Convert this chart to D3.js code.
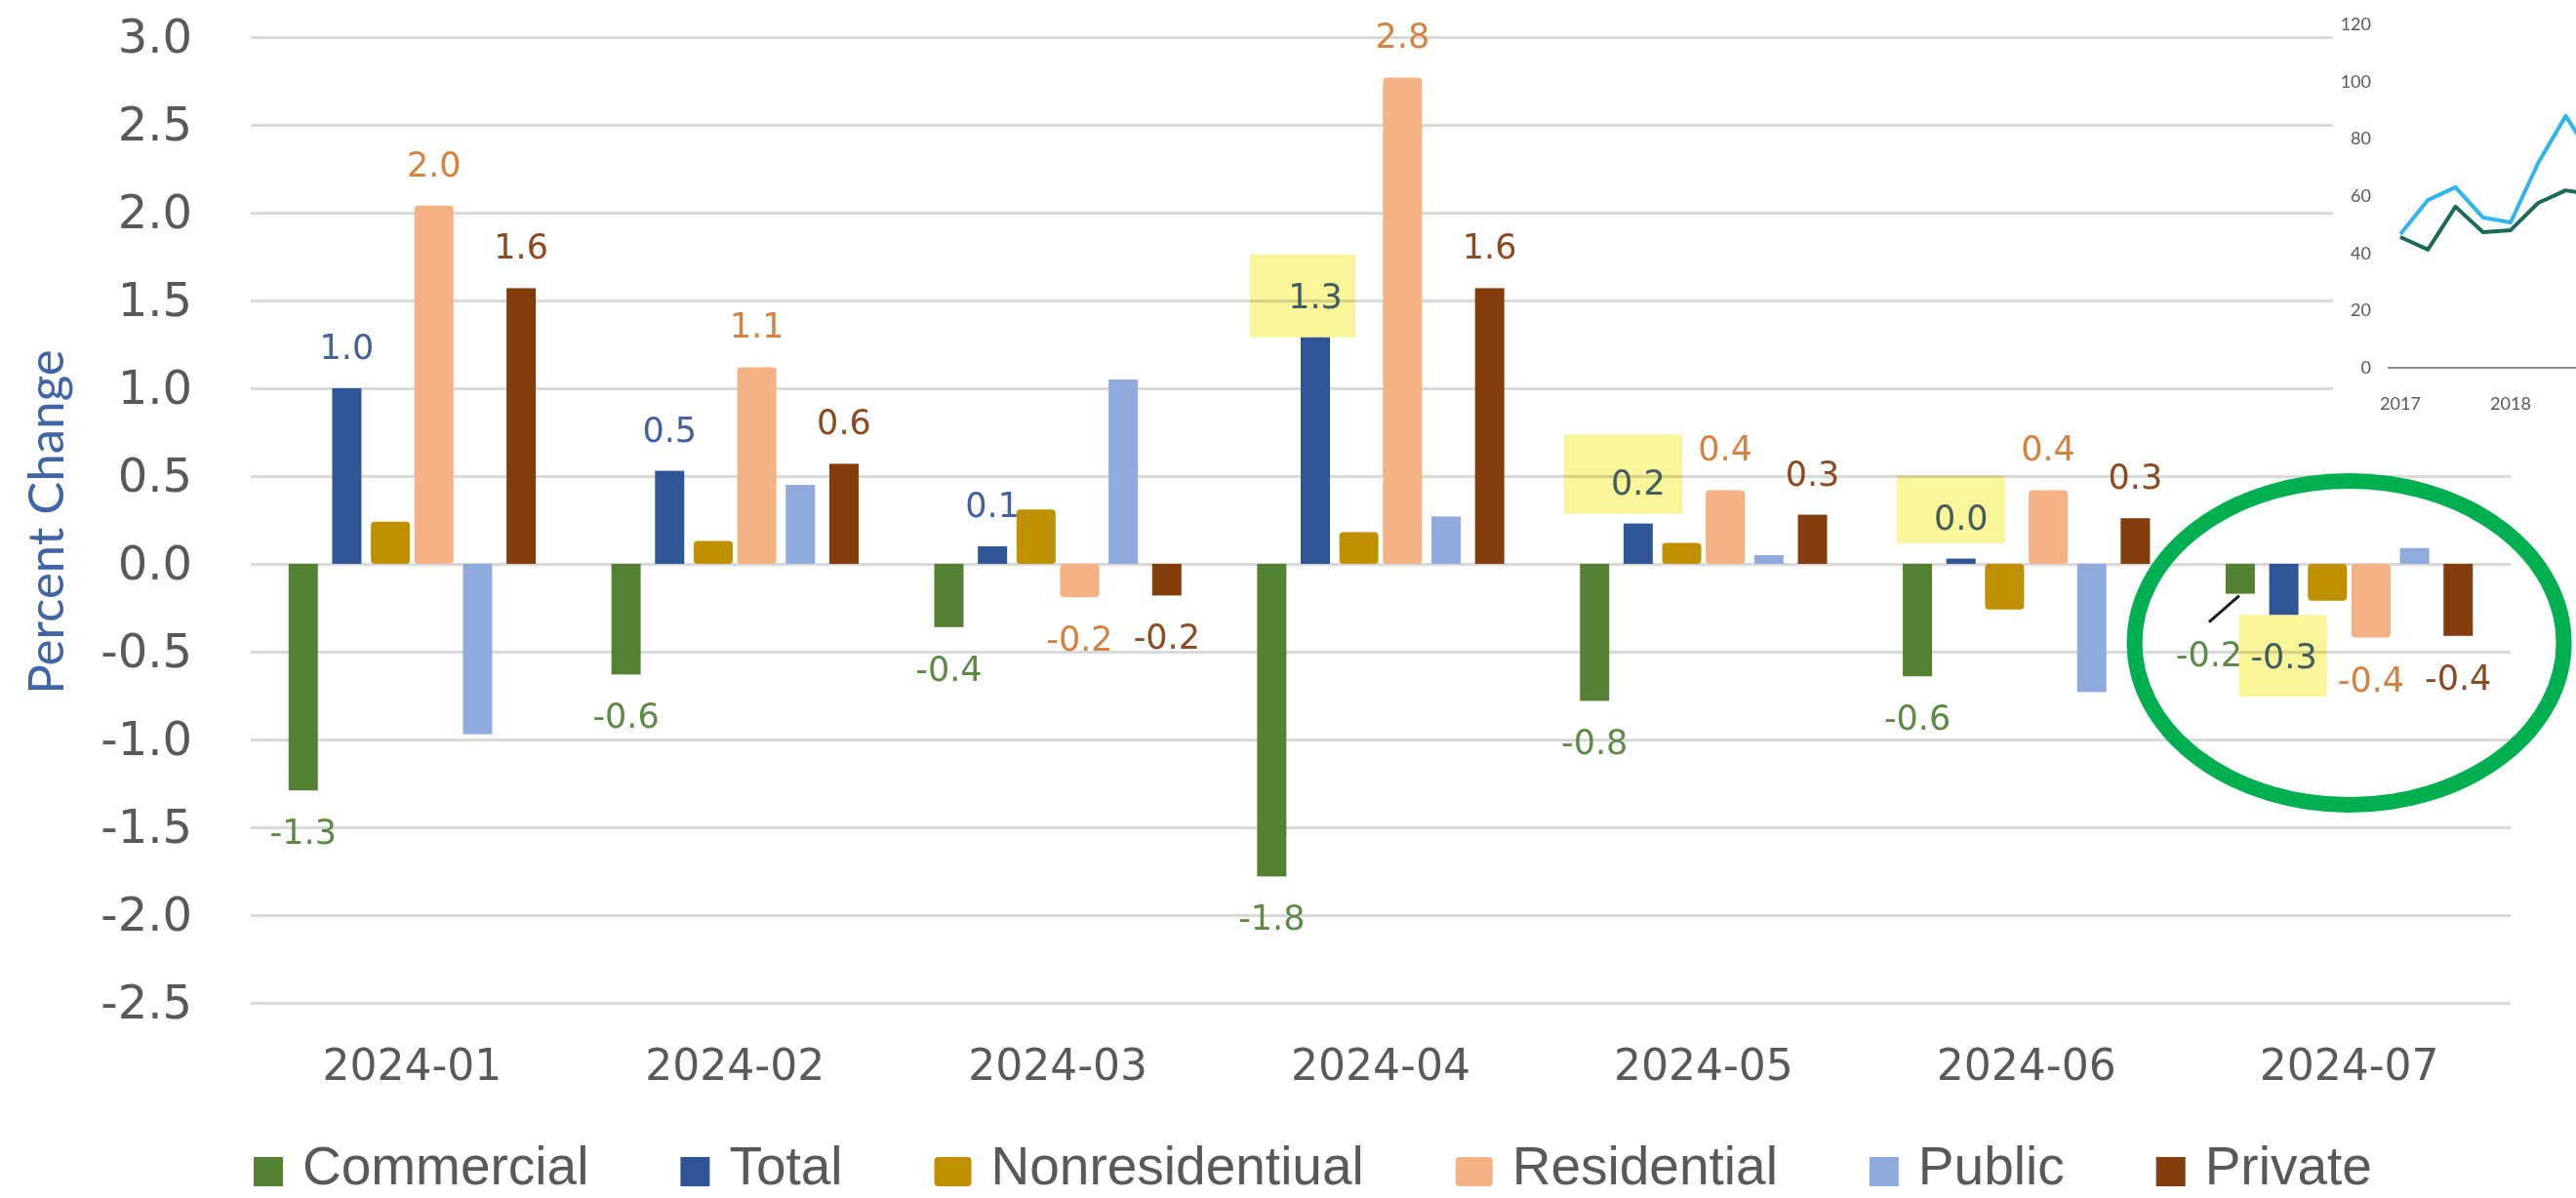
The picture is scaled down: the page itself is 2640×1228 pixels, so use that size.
<!DOCTYPE html>
<html>
<head>
<meta charset="utf-8">
<script src="https://cdn.jsdelivr.net/npm/d3@7"></script>
<style>
  html, body { margin: 0; padding: 0; background: #fff; }
  svg { display: block; }
</style>
</head>
<body>
<div id="chart"></div>
<script>
const WIDTH = 2640;
const HEIGHT = 1228;

// main chart data (percent change)
const categories = ['2024-01', '2024-02', '2024-03', '2024-04', '2024-05', '2024-06', '2024-07'];
const seriesNames = ['Commercial', 'Total', 'Nonresidentiual', 'Residential', 'Public', 'Private'];
const commercial = [-1.29, -0.63, -0.36, -1.78, -0.78, -0.64, -0.17];
const total = [1.0, 0.53, 0.1, 1.29, 0.23, 0.03, -0.29];
const nonresidential = [0.24, 0.13, 0.31, 0.18, 0.12, -0.26, -0.21];
const residential = [2.04, 1.12, -0.19, 2.77, 0.42, 0.42, -0.42];
const publicSector = [-0.97, 0.45, 1.05, 0.27, 0.05, -0.73, 0.09];
const privateSector = [1.57, 0.57, -0.18, 1.57, 0.28, 0.26, -0.41];
const yTicks = [-2.5, -2.0, -1.5, -1.0, -0.5, 0.0, 0.5, 1.0, 1.5, 2.0, 2.5, 3.0];
const labelledSeries = ['Commercial', 'Total', 'Residential', 'Private'];

// small pasted-in chart in the top right corner
const insetLight = [46.7, 58.6, 63.1, 52.5, 50.8, 71.6, 88.0, 73.0];
const insetDark = [45.7, 41.3, 56.3, 47.4, 48.1, 57.6, 62.0, 60.5];
const insetTicks = [0, 20, 40, 60, 80, 100, 120];
const insetYears = ['2017', '2018'];

const barColors = ['#548235', '#2f5597', '#bf9000', '#f4b183', '#8faadc', '#843c0c'];
const labelColors = ['#5e8a45', '#42619e', '#bf9000', '#d6823f', '#8faadc', '#8b4a22'];
const wideSeries = ['Nonresidentiual', 'Residential'];

const valuesFor = [commercial, total, nonresidential, residential, publicSector, privateSector];
const series = seriesNames.map((name, i) => ({ name, values: valuesFor[i], color: barColors[i], labelColor: labelColors[i] }));

const PLOT = { LEFT: 257, RIGHT: 2573 };
const fmt = d => d.toFixed(1);

const svg = d3.select('#chart')
    .append('svg')
    .attr('width', WIDTH)
    .attr('height', HEIGHT)
    .style('font-family', '"DejaVu Sans", sans-serif');

svg.append('rect').attr('width', WIDTH).attr('height', HEIGHT).attr('fill', '#fff');

const x0 = d3.scaleBand()
    .domain(categories)
    .range([PLOT.LEFT, PLOT.RIGHT])
    .paddingInner(0.19)
    .paddingOuter(0.095);

const x1 = d3.scaleBand()
    .domain(seriesNames)
    .range([0, x0.bandwidth()]);

const y = d3.scaleLinear().domain([-2.5, 3.0]).range([1028, 38]);

// gridlines + y tick labels
const yAxis = svg.append('g')
    .attr('transform', `translate(${PLOT.LEFT},0)`)
    .call(d3.axisLeft(y)
        .tickValues(yTicks)
        .tickSize(-(PLOT.RIGHT - PLOT.LEFT))
        .tickPadding(60)
        .tickFormat(fmt));
yAxis.select('.domain').remove();
yAxis.selectAll('line').attr('stroke', '#d9d9d9').attr('stroke-width', 3);
yAxis.selectAll('text')
    .attr('fill', '#595959')
    .style('font-size', '48px')
    .style('font-family', '"DejaVu Sans", sans-serif');

// category labels
const xAxis = svg.append('g')
    .attr('transform', `translate(0,${y(-2.5)})`)
    .call(d3.axisBottom(x0).tickSize(0).tickPadding(48));
xAxis.select('.domain').remove();
xAxis.selectAll('text')
    .attr('fill', '#595959')
    .style('font-size', '44px')
    .style('font-family', '"DejaVu Sans", sans-serif');

// y title
svg.append('text')
    .attr('transform', `translate(65,${(y(3.0) + y(-2.5)) / 2 + 2}) rotate(-90)`)
    .attr('text-anchor', 'middle')
    .attr('fill', '#4064a8')
    .style('font-family', 'Lato, "Open Sans", sans-serif')
    .style('font-size', '51px')
    .text('Percent Change');

// bars
const barCenter = (cat, name) => x0(cat) + x1(name) + x1.bandwidth() / 2;

const groups = svg.append('g')
    .selectAll('g')
    .data(series)
    .join('g')
    .attr('fill', s => s.color);

groups.selectAll('rect')
    .data(s => s.values.map((v, i) => ({ name: s.name, cat: categories[i], v })))
    .join('rect')
    .attr('x', d => barCenter(d.cat, d.name) - (wideSeries.includes(d.name) ? 20 : 15))
    .attr('width', d => wideSeries.includes(d.name) ? 40 : 30)
    .attr('y', d => y(Math.max(0, d.v)))
    .attr('height', d => Math.abs(y(d.v) - y(0)))
    .attr('rx', d => wideSeries.includes(d.name) ? 4 : 0);

// data labels
const labelShift = [{ cat: '2024-07', name: 'Commercial', dx: -32, dy: 19 }];

const labelPos = (cat, name, v) => {
    const shift = labelShift.find(s => s.cat === cat && s.name === name);
    const lx = barCenter(cat, name) + (shift ? shift.dx : 0);
    const ly = (v >= 0 ? y(v) - 30 : y(v) + 55) + (shift ? shift.dy : 0);
    return [lx, ly];
};

const labelData = [];
series.filter(s => labelledSeries.includes(s.name)).forEach(s => {
    s.values.forEach((v, i) => {
        const [lx, ly] = labelPos(categories[i], s.name, v);
        labelData.push({ cat: categories[i], name: s.name, v, lx, ly, color: s.labelColor });
    });
});

svg.append('g')
    .selectAll('text')
    .data(labelData)
    .join('text')
    .attr('x', d => d.lx)
    .attr('y', d => d.ly)
    .attr('text-anchor', 'middle')
    .attr('fill', d => d.color)
    .style('font-size', '35px')
    .text(d => fmt(d.v));

// leader line for the moved label
labelShift.forEach(s => {
    const i = categories.indexOf(s.cat);
    const v = series.find(d => d.name === s.name).values[i];
    const [lx, ly] = labelPos(s.cat, s.name, v);
    svg.append('line')
        .attr('x1', barCenter(s.cat, s.name) - 1)
        .attr('y1', y(v) + 2)
        .attr('x2', lx)
        .attr('y2', ly - 45)
        .attr('stroke', '#1a1a1a')
        .attr('stroke-width', 3);
});

// yellow highlighter boxes (x0, x1, y0, y1 relative to label anchor)
const highlights = [
    { cat: '2024-04', name: 'Total', box: [-67, 41, -55, 30] },
    { cat: '2024-05', name: 'Total', box: [-76, 45, -61, 20] },
    { cat: '2024-06', name: 'Total', box: [-66, 45, -55, 14] },
    { cat: '2024-07', name: 'Total', box: [-46, 44, -55, 29] }
];

svg.append('g')
    .selectAll('rect')
    .data(highlights)
    .join('rect')
    .each(function (h) {
        const i = categories.indexOf(h.cat);
        const v = series.find(d => d.name === h.name).values[i];
        const [lx, ly] = labelPos(h.cat, h.name, v);
        d3.select(this)
            .attr('x', lx + h.box[0])
            .attr('y', ly + h.box[2])
            .attr('width', h.box[1] - h.box[0])
            .attr('height', h.box[3] - h.box[2]);
    })
    .attr('fill', '#fbf59a')
    .style('mix-blend-mode', 'multiply');

// green ring around the last month
const lastCat = categories[categories.length - 1];
svg.append('ellipse')
    .attr('cx', x0(lastCat) + x0.bandwidth() / 2)
    .attr('cy', y(-0.45))
    .attr('rx', 220)
    .attr('ry', 166)
    .attr('fill', 'none')
    .attr('stroke', '#00b050')
    .attr('stroke-width', 16);

// inset chart
const inset = svg.append('g');
inset.append('rect')
    .attr('x', 2391).attr('y', 0)
    .attr('width', WIDTH - 2391).attr('height', 432)
    .attr('fill', '#fff');

const ix = d3.scaleLinear().domain([0, 4]).range([2460, 2573]);
const iy = d3.scaleLinear().domain([0, 120]).range([377, 25]);

inset.append('line')
    .attr('x1', 2447).attr('x2', WIDTH)
    .attr('y1', iy(0)).attr('y2', iy(0))
    .attr('stroke', '#8c8c8c')
    .attr('stroke-width', 2);

inset.selectAll('.itick')
    .data(insetTicks)
    .join('text')
    .attr('class', 'itick')
    .attr('x', 2430)
    .attr('y', d => iy(d) + 6)
    .attr('text-anchor', 'end')
    .attr('fill', '#595959')
    .style('font-family', 'Lato, sans-serif')
    .style('font-size', '18px')
    .text(d => d);

inset.selectAll('.iyear')
    .data(insetYears)
    .join('text')
    .attr('class', 'iyear')
    .attr('x', (d, i) => ix(i * 4))
    .attr('y', 420)
    .attr('text-anchor', 'middle')
    .attr('fill', '#595959')
    .style('font-family', 'Lato, sans-serif')
    .style('font-size', '18px')
    .text(d => d);

const iline = d3.line().x((d, i) => ix(i)).y(d => iy(d));
inset.append('path')
    .attr('d', iline(insetLight))
    .attr('fill', 'none')
    .attr('stroke', '#2fb4ee')
    .attr('stroke-width', 4)
    .attr('stroke-linejoin', 'round');
inset.append('path')
    .attr('d', iline(insetDark))
    .attr('fill', 'none')
    .attr('stroke', '#1a6a56')
    .attr('stroke-width', 4)
    .attr('stroke-linejoin', 'round');

// legend
const legend = svg.append('g');
let lxPos = 260;
series.forEach(s => {
    const wide = wideSeries.includes(s.name);
    const sw = wide ? 38 : 30;
    legend.append('rect')
        .attr('x', lxPos)
        .attr('y', 1186)
        .attr('width', sw)
        .attr('height', 30)
        .attr('rx', wide ? 4 : 0)
        .attr('fill', s.color);
    const t = legend.append('text')
        .attr('x', lxPos + sw + 20)
        .attr('y', 1214)
        .attr('fill', '#595959')
        .style('font-family', '"Liberation Sans", Arial, sans-serif')
        .style('font-size', '55px')
        .text(s.name);
    lxPos += sw + 20 + t.node().getComputedTextLength() + 94;
});
</script>
</body>
</html>
